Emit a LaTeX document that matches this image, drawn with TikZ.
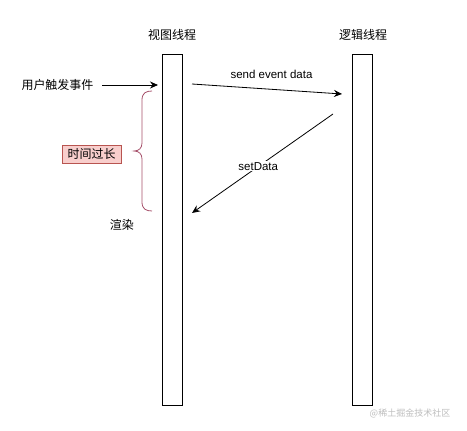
\documentclass[tikz,border=0pt]{standalone}
\usepackage{fontspec}
\setmainfont{Liberation Sans}
\newfontfamily\cjk{Noto Sans CJK SC}
\usetikzlibrary{positioning, arrows.meta}
\definecolor{warnline}{HTML}{B85450}
\definecolor{braceline}{HTML}{A6506A}
\definecolor{warnfill}{HTML}{F8CECC}
\definecolor{markgray}{HTML}{BDBDBD}

\begin{document}
\begin{tikzpicture}[x=1pt, y=-1pt,
  lifeline/.style={draw, line width=1pt, minimum width=20pt, minimum height=351pt, inner sep=0pt},
  zh/.style={font=\cjk\fontsize{12}{14}\selectfont},
  en/.style={font=\fontsize{11.5}{13}\selectfont},
  msg/.style={line width=0.8pt, -{Stealth[length=8pt, width=7pt]}},
  warnbox/.style={zh, draw=warnline, fill=warnfill, line width=0.8pt, minimum width=59pt, minimum height=18pt, inner sep=0pt}]
\useasboundingbox (0,0) rectangle (467,431);
% two threads
\node[lifeline] (view) at (172.5,229.5) {};
\node[lifeline] (logic) at (362.5,229.5) {};
\node[zh] (viewt) at (172,35) {视图线程};
\node[zh] (logict) at (363,35) {逻辑线程};
% user event
\node[zh] (trigger) at (57.5,85) {用户触发事件};
\coordinate (hit) at (158,85);
\draw[msg, shorten <=5pt] (trigger) -- (hit);
% messages between the threads
\coordinate (sendA) at (192,84);
\coordinate (sendB) at (342,94);
\draw[msg] (sendA) -- node[en, above=7pt, pos=0.53] (sendl) {send event data} (sendB);
\coordinate (setA) at (333,114);
\coordinate (setB) at (192,213);
\draw[msg] (setA) -- node[en, fill=white, inner sep=1pt, pos=0.53] (setl) {setData} (setB);
% too long
\draw[braceline, line width=0.8pt] (152,91) .. controls (146,91) and (142,93) .. (142,100) -- (142,143)
  .. controls (142,148) and (139,151) .. (134,151) .. controls (139,151) and (142,154) .. (142,159)
  -- (142,202) .. controls (142,209) and (146,211) .. (152,211);
\node[warnbox] (toolong) at (91.5,154) {时间过长};
\node[zh] (render) at (122,225) {渲染};
\node[font=\cjk\fontsize{9}{11}\selectfont, text=markgray] (mark) at (410,413) {@稀土掘金技术社区};
\end{tikzpicture}
\end{document}
